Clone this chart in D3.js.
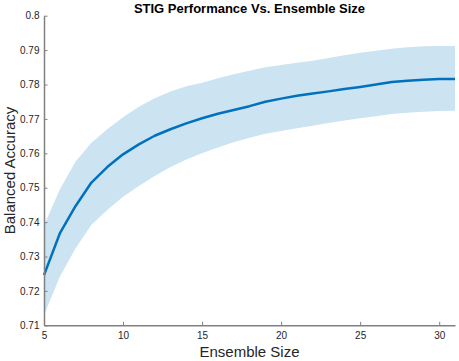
<!DOCTYPE html>
<html>
<head>
<meta charset="utf-8">
<script src="https://cdn.jsdelivr.net/npm/d3@7"></script>
<style>
  body { margin: 0; background: #fff; }
  svg { display: block; font-family: "Liberation Sans", Arial, sans-serif; }
</style>
</head>
<body>
<svg id="chart" width="459" height="361"></svg>
<script>
// ensemble sizes and balanced accuracy (mean, upper and lower band)
var sizes = [5, 6, 7, 8, 9, 10, 11, 12, 13, 14, 15, 16, 17, 18, 19, 20,
  21, 22, 23, 24, 25, 26, 27, 28, 29, 30, 31];
var meanAcc = [0.7246, 0.7367, 0.7447, 0.7515, 0.7560, 0.7597, 0.7626, 0.7651,
  0.7670, 0.7687, 0.7702, 0.7715, 0.7726, 0.7737, 0.7750, 0.7759, 0.7767,
  0.7774, 0.7780, 0.7787, 0.7793, 0.7800, 0.7807, 0.7811, 0.7814, 0.7816, 0.7816];
var upperAcc = [0.7390, 0.7495, 0.7576, 0.7631, 0.7670, 0.7705, 0.7735, 0.7760,
  0.7780, 0.7795, 0.7805, 0.7818, 0.7830, 0.7840, 0.7850, 0.7857, 0.7863,
  0.7869, 0.7877, 0.7885, 0.7892, 0.7898, 0.7904, 0.7908, 0.7911, 0.7912, 0.7912];
var lowerAcc = [0.7130, 0.7241, 0.7324, 0.7392, 0.7435, 0.7474, 0.7505, 0.7534,
  0.7560, 0.7582, 0.7600, 0.7617, 0.7632, 0.7645, 0.7657, 0.7665, 0.7673,
  0.7680, 0.7688, 0.7695, 0.7702, 0.7708, 0.7714, 0.7718, 0.7721, 0.7723, 0.7724];
var xTicks = [5, 10, 15, 20, 25, 30];
var yTicks = [0.71, 0.72, 0.73, 0.74, 0.75, 0.76, 0.77, 0.78, 0.79, 0.8];

var svg = d3.select('#chart');
var plotLeft = 44, plotRight = 455, plotTop = 15.7, plotBottom = 325.3;

var x = d3.scaleLinear().domain([5, 31]).range([plotLeft, plotRight]);
var y = d3.scaleLinear().domain([0.71, 0.8]).range([plotBottom, plotTop]);

var rows = sizes.map(function(s, i) {
  return { s: s, m: meanAcc[i], hi: upperAcc[i], lo: lowerAcc[i] };
});

// shaded band
svg.append('path')
  .datum(rows)
  .attr('fill', 'rgb(204,227,242)')
  .attr('d', d3.area()
    .x(function(d) { return x(d.s); })
    .y0(function(d) { return y(d.lo); })
    .y1(function(d) { return y(d.hi); }));

// mean line
svg.append('path')
  .datum(rows)
  .attr('fill', 'none')
  .attr('stroke', '#0072BD')
  .attr('stroke-width', 2.5)
  .attr('stroke-linejoin', 'round')
  .attr('d', d3.line()
    .x(function(d) { return x(d.s); })
    .y(function(d) { return y(d.m); }));

// axes, ticks pointing inward like matlab
var xAxis = svg.append('g')
  .attr('transform', 'translate(0,' + plotBottom + ')')
  .call(d3.axisBottom(x).tickValues(xTicks).tickSizeInner(-3.5).tickSizeOuter(0).tickPadding(8));
var yAxis = svg.append('g')
  .attr('transform', 'translate(' + plotLeft + ',0)')
  .call(d3.axisLeft(y).tickValues(yTicks).tickSizeInner(-3.5).tickSizeOuter(0).tickPadding(4.5)
    .tickFormat(function(d) { return String(+d.toFixed(2)); }));

[xAxis, yAxis].forEach(function(a) {
  a.select('.domain').attr('stroke', '#808080').attr('stroke-width', 1.5);
  a.selectAll('.tick line').attr('stroke', '#808080').attr('stroke-width', 1);
  a.selectAll('.tick text')
    .attr('fill', '#262626')
    .style('font-size', '10px')
    .style('font-family', '"Liberation Sans", Arial, sans-serif');
});
xAxis.selectAll('.tick text').attr('dy', '0.71em').attr('y', 6.8);

// labels
svg.append('text')
  .attr('x', (plotLeft + plotRight) / 2)
  .attr('y', 13)
  .attr('text-anchor', 'middle')
  .attr('font-weight', 'bold')
  .attr('font-size', 13)
  .attr('fill', '#000')
  .text('STIG Performance Vs. Ensemble Size');

svg.append('text')
  .attr('x', (plotLeft + plotRight) / 2)
  .attr('y', 357)
  .attr('text-anchor', 'middle')
  .attr('font-size', 15)
  .attr('fill', '#262626')
  .text('Ensemble Size');

svg.append('text')
  .attr('transform', 'translate(15,' + ((plotTop + plotBottom) / 2) + ') rotate(-90)')
  .attr('text-anchor', 'middle')
  .attr('font-size', 15)
  .attr('fill', '#262626')
  .text('Balanced Accuracy');
</script>
</body>
</html>
